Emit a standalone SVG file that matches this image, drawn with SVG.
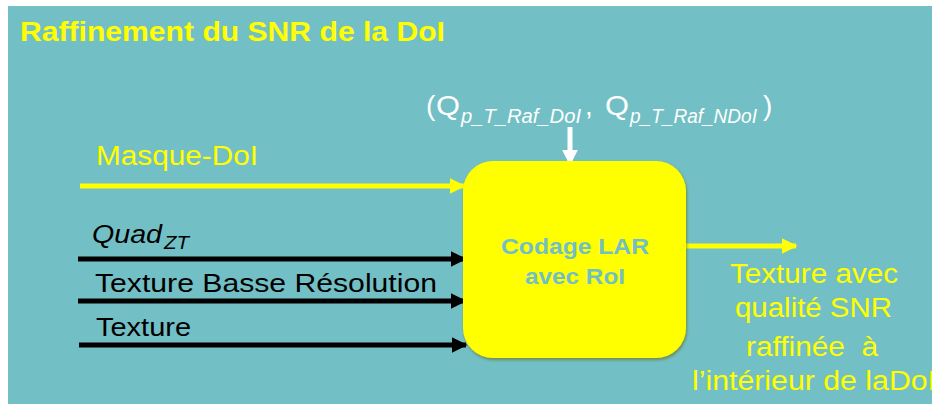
<svg xmlns="http://www.w3.org/2000/svg" width="932" height="404" viewBox="0 0 932 404">
<defs>
<style>
.t{font-family:"Liberation Sans",Arial,sans-serif;white-space:pre}
.y{fill:#FFFF00}
.k{fill:#000}
.w{fill:#FFFFFF}
</style>
<marker id="ay" viewBox="0 0 10 10" refX="9" refY="5" markerWidth="3.2" markerHeight="3.2" orient="auto" markerUnits="strokeWidth"><path d="M0,0 L10,5 L0,10 z" fill="#FFFF00"/></marker>
<marker id="ak" viewBox="0 0 10 10" refX="9" refY="5" markerWidth="3.2" markerHeight="3.2" orient="auto" markerUnits="strokeWidth"><path d="M0,0 L10,5 L0,10 z" fill="#000"/></marker>
<marker id="aw" viewBox="0 0 10 10" refX="9" refY="5" markerWidth="3.2" markerHeight="3.2" orient="auto" markerUnits="strokeWidth"><path d="M0,0 L10,5 L0,10 z" fill="#FFFFFF"/></marker>
<filter id="sh" x="-10%" y="-10%" width="120%" height="120%"><feDropShadow dx="1" dy="2" stdDeviation="1.5" flood-color="#6b6b00" flood-opacity="0.6"/></filter>
</defs>
<rect width="932" height="404" fill="#FFFFFF"/>
<rect x="8" y="6" width="924" height="398" fill="#72BFC5"/>
<text class="t y" x="20" y="41" font-size="27" font-weight="bold" textLength="425" lengthAdjust="spacingAndGlyphs">Raffinement du SNR de la DoI</text>
<g id="connectors">
<line x1="80" y1="186" x2="464" y2="186" stroke="#FFFF00" stroke-width="5" marker-end="url(#ay)"/>
<line x1="78" y1="259" x2="465" y2="259" stroke="#000" stroke-width="5" marker-end="url(#ak)"/>
<line x1="78" y1="301" x2="465" y2="301" stroke="#000" stroke-width="5" marker-end="url(#ak)"/>
<line x1="79" y1="345" x2="466" y2="345" stroke="#000" stroke-width="5" marker-end="url(#ak)"/>
<line x1="570" y1="127" x2="570" y2="164" stroke="#FFFFFF" stroke-width="5" marker-end="url(#aw)"/>
<line x1="686" y1="246" x2="796" y2="246" stroke="#FFFF00" stroke-width="5" marker-end="url(#ay)"/>
</g>
<g id="labels">
<text class="t y" x="96" y="165" font-size="27" textLength="162" lengthAdjust="spacingAndGlyphs">Masque-DoI</text>
<text class="t k" font-size="25" font-style="italic"><tspan x="92" y="243" textLength="70" lengthAdjust="spacingAndGlyphs">Quad</tspan><tspan x="164" y="249" font-size="18" textLength="25" lengthAdjust="spacingAndGlyphs">ZT</tspan></text>
<text class="t k" x="95" y="292" font-size="26" textLength="342" lengthAdjust="spacingAndGlyphs">Texture Basse Résolution</text>
<text class="t k" x="96" y="336" font-size="26" textLength="95" lengthAdjust="spacingAndGlyphs">Texture</text>
<text class="t w" font-size="28"><tspan x="426" y="115">(</tspan><tspan x="436" y="115" textLength="24" lengthAdjust="spacingAndGlyphs">Q</tspan><tspan x="461" y="123" font-size="20" font-style="italic" textLength="120" lengthAdjust="spacingAndGlyphs">p_T_Raf_DoI</tspan><tspan x="585" y="115">,</tspan><tspan x="605" y="115" textLength="24" lengthAdjust="spacingAndGlyphs">Q</tspan><tspan x="630" y="123" font-size="20" font-style="italic" textLength="127" lengthAdjust="spacingAndGlyphs">p_T_Raf_NDoI</tspan><tspan x="763" y="115">)</tspan></text>
</g>
<g id="codage">
<rect x="463" y="161" width="223" height="197" rx="30" ry="30" fill="#FFFF00" filter="url(#sh)"/>
<text class="t" x="501" y="254" font-size="22" font-weight="bold" fill="#72BFC5" textLength="148" lengthAdjust="spacingAndGlyphs">Codage LAR</text>
<text class="t" x="525" y="284" font-size="22" font-weight="bold" fill="#72BFC5" textLength="100" lengthAdjust="spacingAndGlyphs">avec RoI</text>
</g>
<g id="output">
<text class="t y" font-size="27"><tspan x="730" y="283" textLength="168" lengthAdjust="spacingAndGlyphs">Texture avec</tspan><tspan x="735" y="317" textLength="157" lengthAdjust="spacingAndGlyphs">qualité SNR</tspan><tspan x="746" y="356" textLength="132" lengthAdjust="spacingAndGlyphs">raffinée  à</tspan><tspan x="692" y="390" textLength="244" lengthAdjust="spacingAndGlyphs">l’intérieur de laDoI</tspan></text>
</g>
</svg>
